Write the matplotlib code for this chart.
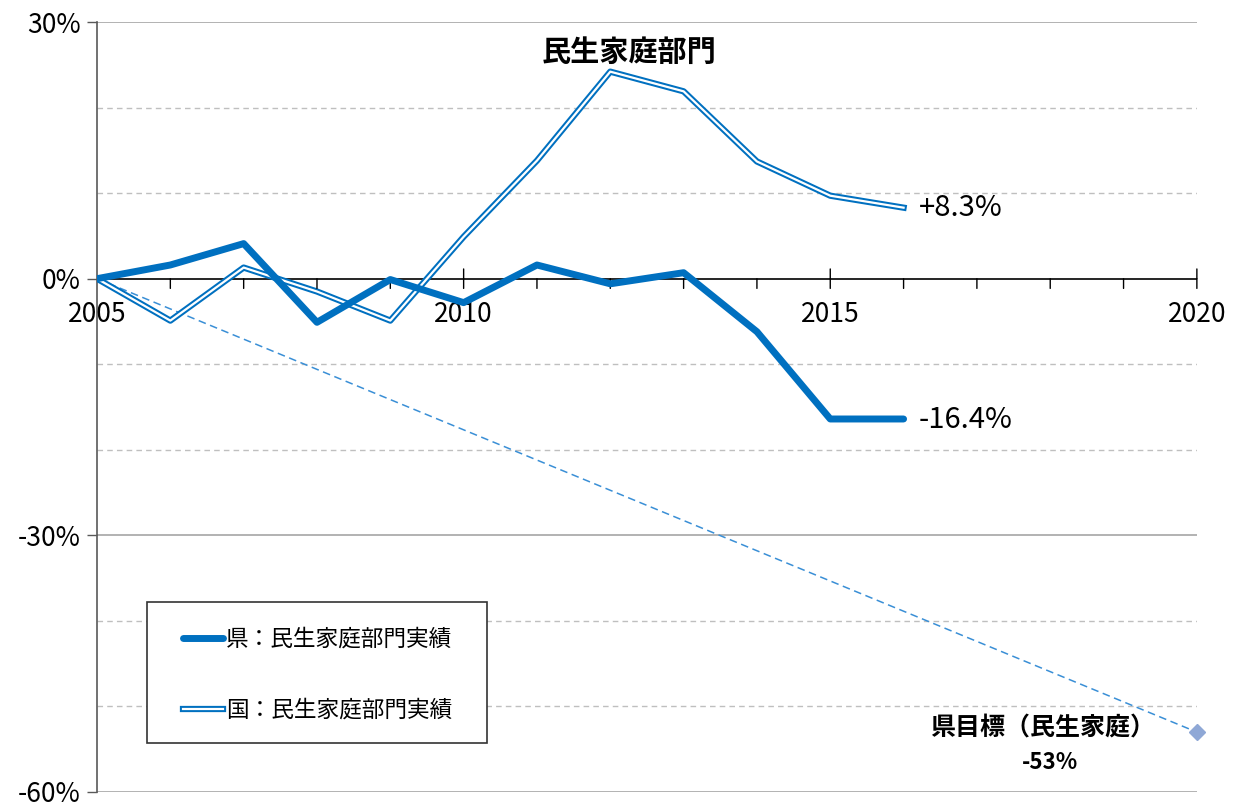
import matplotlib.pyplot as plt
import matplotlib.patheffects as pe
from matplotlib.patches import Rectangle
from matplotlib.ticker import FuncFormatter, MultipleLocator

plt.rcParams['font.family'] = ['Noto Sans CJK JP', 'DejaVu Sans']

years = [2005, 2006, 2007, 2008, 2009, 2010, 2011, 2012, 2013, 2014, 2015, 2016]
ken = [0.0, 1.6, 4.1, -5.1, -0.1, -2.8, 1.6, -0.6, 0.7, -6.2, -16.4, -16.4]
kuni = [0.0, -4.9, 1.3, -1.5, -4.9, 4.9, 13.8, 24.2, 21.9, 13.7, 9.7, 8.3]
target_years = [2005, 2020]
target_vals = [0.0, -53.0]
xlabels = [2005, 2010, 2015, 2020]

blue = '#0070C0'

fig = plt.figure(figsize=(12.39, 8.07), dpi=100)
ax = fig.add_axes([0.0783, 0.0186, 0.8877, 0.9541])

ax.set_xlim(2005, 2020)
ax.set_ylim(-60, 30)

# grid
for v in [20, 10, -10, -20, -40, -50]:
    ax.axhline(v, color='#bfbfbf', lw=1, ls=(0, (4, 3)), zorder=0)
for v in [30, -30, -60]:
    ax.axhline(v, color='#a6a6a6', lw=1.2, zorder=0)

# target line
ax.plot(target_years, target_vals, color='#3a8fd6', lw=1.1, ls=(0, (5, 3)), zorder=2)
ax.plot([target_years[-1]], [target_vals[-1]], marker='D', ms=8, color='#8fa8d6',
        mec='#8fa8d6', clip_on=False, zorder=3)

# national: double line
l2, = ax.plot(years, kuni, color=blue, lw=4.5, zorder=3, label='国：民生家庭部門実績')
l2.set_path_effects([pe.Stroke(linewidth=4.5, foreground=blue),
                     pe.Stroke(linewidth=1.6, foreground='white')])
# prefecture: thick
l1, = ax.plot(years, ken, color=blue, lw=5, zorder=4, solid_capstyle='round',
              label='県：民生家庭部門実績')

# axes styling
for s in ['top', 'right', 'bottom']:
    ax.spines[s].set_visible(False)
ax.spines['left'].set_color('#595959')
ax.spines['left'].set_linewidth(1.2)
ax.axhline(0, color='black', lw=1.2, zorder=1)

ax.yaxis.set_major_locator(MultipleLocator(30))
ax.yaxis.set_major_formatter(FuncFormatter(lambda v, p: f'{v:.0f}%'))
ax.tick_params(axis='y', length=7, width=1, color='#595959', labelsize=19, pad=5)

ax.set_xticks([])
for yr in range(2006, 2021):
    ax.annotate('', xy=(yr, 0), xytext=(0, -7), textcoords='offset points',
                arrowprops=dict(arrowstyle='-', lw=1, color='black', shrinkA=0, shrinkB=0))
    if yr % 5 == 0:
        ax.annotate('', xy=(yr, 0), xytext=(0, 7), textcoords='offset points',
                    arrowprops=dict(arrowstyle='-', lw=1, color='black',
                                    shrinkA=0, shrinkB=0))
for yr in xlabels:
    ax.annotate(str(yr), xy=(yr, 0), xytext=(0, -16), textcoords='offset points',
                ha='center', va='top', fontsize=19, annotation_clip=False)

# labels
ax.text(2012.25, 26.5, '民生家庭部門', fontsize=21, fontweight='bold', ha='center', va='center')
ax.annotate('+8.3%', xy=(years[-1], kuni[-1]), xytext=(11, -0.5), textcoords='offset points',
            fontsize=21, va='center', ha='left')
ax.annotate('-16.4%', xy=(years[-1], ken[-1]), xytext=(11, -0.5), textcoords='offset points',
            fontsize=21, va='center', ha='left')
ax.text(2017.9, -52.6, '県目標（民生家庭）', fontsize=18, fontweight='bold', ha='center', va='center')
ax.text(2018.0, -56.6, '-53%', fontsize=16, fontweight='bold', ha='center', va='center')

# legend: frame drawn separately
ax.add_patch(Rectangle((0.0455, 0.0636), 0.309, 0.183, transform=ax.transAxes,
                       facecolor='white', edgecolor='#333333', lw=1.2, zorder=5))
leg = ax.legend(handles=[l1, l2], loc='upper left', bbox_to_anchor=(0.0782, 0.213),
                fontsize=16.3, frameon=False, borderpad=0, labelspacing=2.1,
                handlelength=1.75, handletextpad=0.14, borderaxespad=0)
leg.set_zorder(6)

fig.savefig('out.png', dpi=100)
